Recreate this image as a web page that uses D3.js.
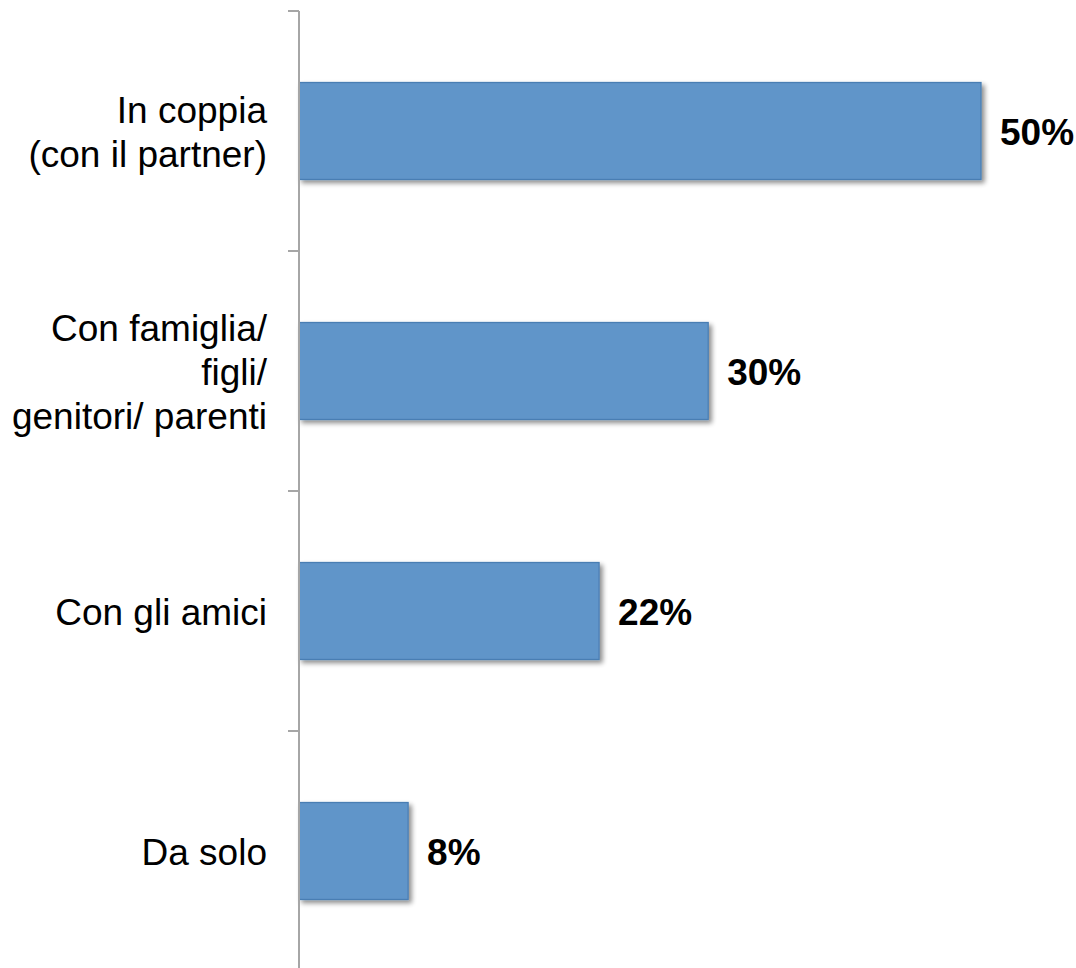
<!DOCTYPE html>
<html><head><meta charset="utf-8">
<script src="https://cdn.jsdelivr.net/npm/d3@7"></script>
<style>body{margin:0;background:#fff}svg{display:block}</style>
</head><body>
<svg id="c" width="1076" height="968"></svg>
<script>
const categories = [["In coppia","(con il partner)"],["Con famiglia/","figli/","genitori/ parenti"],["Con gli amici"],["Da solo"]];
const values = [50, 30, 22, 8];
const valueLabels = ["50%","30%","22%","8%"];

const svg = d3.select("#c");
const x0 = 299, topY = 11, step = 240;
const y = d3.scaleBand().domain(d3.range(categories.length)).range([topY, topY + step*categories.length]).paddingInner(0.596).paddingOuter(0.298);
const x = d3.scaleLinear().domain([0, 50]).range([x0, 981]);

const defs = svg.append("defs");
const f = defs.append("filter").attr("id","sh").attr("x","-10%").attr("y","-20%").attr("width","130%").attr("height","150%");
f.append("feGaussianBlur").attr("in","SourceAlpha").attr("stdDeviation",2.5).attr("result","b");
f.append("feOffset").attr("in","b").attr("dx",3).attr("dy",3).attr("result","o");
f.append("feComponentTransfer").attr("in","o").attr("result","o2").append("feFuncA").attr("type","linear").attr("slope",0.45);
const m = f.append("feMerge"); m.append("feMergeNode").attr("in","o2"); m.append("feMergeNode").attr("in","SourceGraphic");

svg.selectAll("rect.bar").data(values).join("rect").attr("class","bar")
  .attr("x", x(0)).attr("y", (d,i)=>y(i)).attr("width", d=>x(d)-x(0)).attr("height", y.bandwidth())
  .attr("fill","#6195c9").attr("stroke","#4a7eb3").attr("stroke-width",1.3).attr("filter","url(#sh)");

// axis
const axisG = svg.append("g");
axisG.append("line").attr("x1",x0).attr("x2",x0).attr("y1",topY).attr("y2",968).attr("stroke","#a6a6a6").attr("stroke-width",2);
d3.range(categories.length+1).forEach(i=>{
  axisG.append("line").attr("x1",288).attr("x2",x0).attr("y1",topY+i*step).attr("y2",topY+i*step).attr("stroke","#a6a6a6").attr("stroke-width",2);
});

// category labels
const lh = 44;
categories.forEach((lines,i)=>{
  const cy = y(i) + y.bandwidth()/2;
  const t = svg.append("text").attr("text-anchor","end").attr("font-family","Liberation Sans, Arial, sans-serif").attr("font-size",37).attr("fill","#000");
  lines.forEach((s,j)=>{
    t.append("tspan").attr("x",267).attr("y", cy + (j - (lines.length-1)/2)*lh + 14).text(s);
  });
});

svg.selectAll("text.val").data(values).join("text").attr("class","val")
  .attr("x", d=>x(d)+19).attr("y",(d,i)=>y(i)+y.bandwidth()/2+14)
  .attr("font-family","Liberation Sans, Arial, sans-serif").attr("font-weight","bold").attr("font-size",37)
  .text((d,i)=>valueLabels[i]);
</script>
</body></html>
